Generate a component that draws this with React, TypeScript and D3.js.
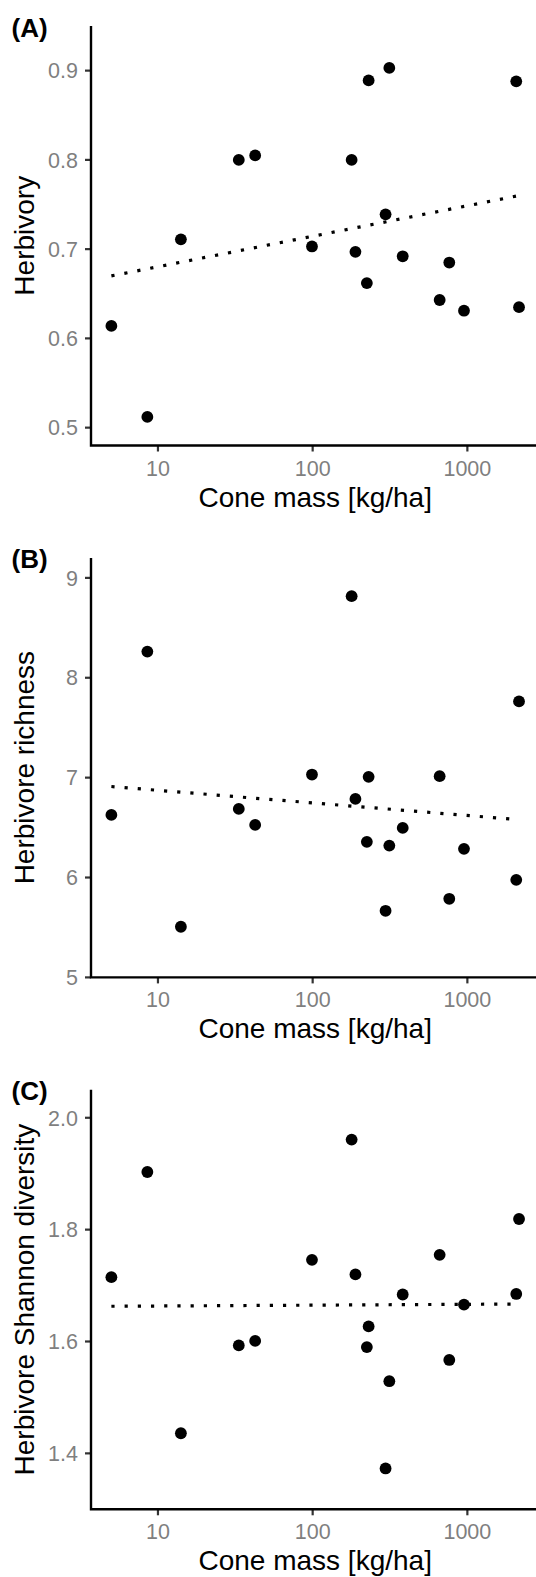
import * as d3 from "d3";
import { useEffect, useRef } from "react";

// cone mass per site [kg/ha]
const coneMass = [5.0, 8.54, 14.07, 33.3, 42.5, 99, 178.6, 189, 224, 230, 296, 313, 382, 662, 764, 951, 2070, 2157];

const herbivory = [0.614, 0.512, 0.711, 0.8, 0.805, 0.703, 0.8, 0.697, 0.662, 0.889, 0.739, 0.903, 0.692, 0.643, 0.685, 0.631, 0.888, 0.635];
const richness = [6.627, 8.262, 5.507, 6.687, 6.527, 7.031, 8.817, 6.787, 6.357, 7.008, 5.667, 6.32, 6.497, 7.015, 5.787, 6.287, 5.977, 7.763];
const shannon = [1.715, 1.903, 1.436, 1.593, 1.601, 1.746, 1.961, 1.72, 1.59, 1.627, 1.373, 1.529, 1.684, 1.755, 1.567, 1.666, 1.685, 1.819];

// fitted values at min and max cone mass
const fitHerbivory = [0.67, 0.76];
const fitRichness = [6.911, 6.579];
const fitShannon = [1.663, 1.667];

const xTicks = [10, 100, 1000];
const herbivoryTicks = [0.5, 0.6, 0.7, 0.8, 0.9];
const richnessTicks = [5, 6, 7, 8, 9];
const shannonTicks = [1.4, 1.6, 1.8, 2.0];

const panels = [
  { label: "(A)", title: "Herbivory", values: herbivory, fit: fitHerbivory, domain: [0.48, 0.95], ticks: herbivoryTicks, fmt: d3.format(".1f") },
  { label: "(B)", title: "Herbivore richness", values: richness, fit: fitRichness, domain: [5, 9.2], ticks: richnessTicks, fmt: d3.format("d") },
  { label: "(C)", title: "Herbivore Shannon diversity", values: shannon, fit: fitShannon, domain: [1.3, 2.05], ticks: shannonTicks, fmt: d3.format(".1f") },
];

export default function App() {
  const ref = useRef<SVGSVGElement>(null);

  useEffect(() => {
    if (!ref.current) return;
    const width = 536;
    const height = 1577;
    const svg = d3.select(ref.current);
    svg.selectAll("*").remove();
    svg.attr("width", width).attr("height", height);

    const font = "'Liberation Sans', Arial, Helvetica, sans-serif";
    const left = 91;
    const panelH = 419.5;
    const step = 531.9;

    // 5% expansion on log scale, like ggplot
    const lx = d3.extent(coneMass.map(Math.log10)) as [number, number];
    const pad = (lx[1] - lx[0]) * 0.05;
    const x = d3.scaleLog()
      .domain([Math.pow(10, lx[0] - pad), Math.pow(10, lx[1] + pad)])
      .range([left, 539.4]);

    panels.forEach((p, i) => {
      const top = 26 + i * step;
      const bottom = top + panelH;
      const y = d3.scaleLinear().domain(p.domain).range([bottom, top]);
      const g = svg.append("g");

      // fit line
      const xr = d3.extent(coneMass) as [number, number];
      g.append("path")
        .attr("d", d3.line<number>()
          .x((_, j) => x(xr[j]))
          .y(d => y(d))(p.fit))
        .attr("fill", "none")
        .attr("stroke", "#000")
        .attr("stroke-width", 3.2)
        .attr("stroke-dasharray", "3.2 10");

      // points
      g.selectAll("circle.pt")
        .data(p.values)
        .enter()
        .append("circle")
        .attr("cx", (_, j) => x(coneMass[j]))
        .attr("cy", d => y(d))
        .attr("r", 5.9)
        .attr("fill", "#000");

      // y axis
      const ya = g.append("g");
      ya.selectAll("line.tk")
        .data(p.ticks)
        .enter()
        .append("line")
        .attr("x1", left - 6)
        .attr("x2", left)
        .attr("y1", d => y(d))
        .attr("y2", d => y(d))
        .attr("stroke", "#333")
        .attr("stroke-width", 2.2);
      ya.selectAll("text")
        .data(p.ticks)
        .enter()
        .append("text")
        .attr("x", left - 13)
        .attr("y", d => y(d))
        .attr("dy", "0.36em")
        .attr("text-anchor", "end")
        .attr("font-family", font)
        .attr("font-size", 21.5)
        .attr("fill", "#7f7f7f")
        .text(d => p.fmt(d));

      // x axis
      const xa = g.append("g");
      xa.selectAll("line.tk")
        .data(xTicks)
        .enter()
        .append("line")
        .attr("x1", d => x(d))
        .attr("x2", d => x(d))
        .attr("y1", bottom)
        .attr("y2", bottom + 6)
        .attr("stroke", "#333")
        .attr("stroke-width", 2.2);
      xa.selectAll("text")
        .data(xTicks)
        .enter()
        .append("text")
        .attr("x", d => x(d))
        .attr("y", bottom + 30)
        .attr("text-anchor", "middle")
        .attr("font-family", font)
        .attr("font-size", 21.5)
        .attr("fill", "#7f7f7f")
        .text(d => String(d));

      // axis lines
      g.append("path")
        .attr("d", `M${left},${top}V${bottom}H${width}`)
        .attr("fill", "none")
        .attr("stroke", "#000")
        .attr("stroke-width", 2.4);

      // titles
      g.append("text")
        .attr("x", (left + 539.4) / 2)
        .attr("y", bottom + 61)
        .attr("text-anchor", "middle")
        .attr("font-family", font)
        .attr("font-size", 28)
        .attr("fill", "#000")
        .text("Cone mass [kg/ha]");

      g.append("text")
        .attr("transform", `translate(33.5,${(top + bottom) / 2}) rotate(-90)`)
        .attr("text-anchor", "middle")
        .attr("font-family", font)
        .attr("font-size", 28)
        .attr("fill", "#000")
        .text(p.title);

      g.append("text")
        .attr("x", 11.5)
        .attr("y", top + 10.5)
        .attr("font-family", font)
        .attr("font-size", 26)
        .attr("font-weight", "bold")
        .attr("fill", "#000")
        .text(p.label);
    });
  }, []);

  return <svg ref={ref} style={{ position: "absolute", left: 0, top: 0, background: "#fff" }} />;
}
